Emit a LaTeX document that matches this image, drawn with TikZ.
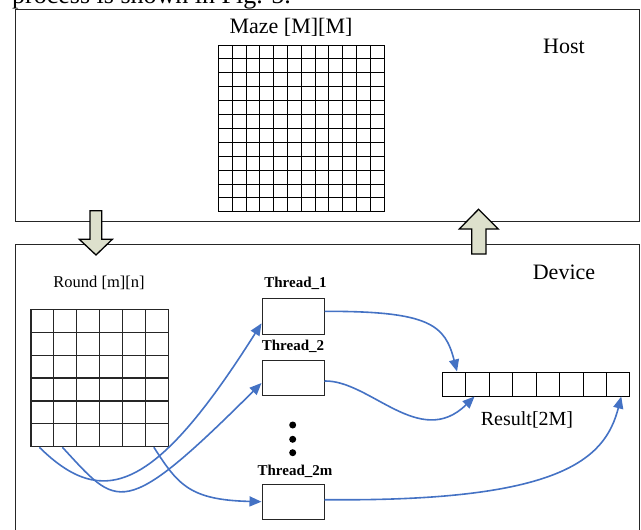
\documentclass[tikz,border=0pt]{standalone}
\usepackage{fontspec}
\setmainfont{Liberation Serif}
\usetikzlibrary{arrows.meta,calc}
\definecolor{flowblue}{HTML}{4472C4}
\definecolor{xferfill}{HTML}{DDE0CC}
\definecolor{edge}{HTML}{262626}
\begin{document}
\begin{tikzpicture}[x=1pt,y=-1pt,
  frame/.style={draw=edge,line width=1pt,inner sep=0pt},
  mazeline/.style={draw=black,line width=0.8pt},
  roundline/.style={draw=edge,line width=1.2pt},
  cell/.style={draw=black,line width=1pt,inner sep=0pt,minimum width=23.46pt,minimum height=24pt},
  threadbox/.style={draw=edge,line width=1pt,inner sep=0pt,minimum width=62pt,minimum height=35.3pt},
  tlabel/.style={font=\fontsize{15}{18}\selectfont\bfseries,inner sep=0pt},
  biglabel/.style={font=\fontsize{22}{26}\selectfont,inner sep=0pt},
  flow/.style={draw=flowblue,line width=1.6pt,-{Triangle[length=12pt,width=10pt]}},
  xfer/.style={fill=xferfill,draw=black,line width=1.3pt,line join=miter},
  dot/.style={circle,fill=black,inner sep=0pt,minimum size=7pt}
]
\useasboundingbox (0,0) rectangle (641,530);
\clip (0,0) rectangle (641,530);

% running text above the figure
\node[anchor=base west,inner sep=0pt,font=\fontsize{26}{30}\selectfont] (caption) at (12,4) {process is shown in Fig. 5.};

% host side
\node[frame,minimum width=624pt,minimum height=211.5pt] (host) at (327,115.25) {};
\node[biglabel] (hostlbl) at (564,46) {Host};
\node[biglabel] (mazelbl) at (291,27) {Maze [M][M]};
\foreach \i in {1,...,11} {
  \draw[mazeline] (218.3+\i*13.808,45) -- (218.3+\i*13.808,211.7);
  \draw[mazeline] (218.3,45+\i*13.892) -- (384,45+\i*13.892);
}
\node[draw=black,line width=0.9pt,inner sep=0pt,minimum width=165.7pt,minimum height=166.7pt] (maze) at (301.15,128.35) {};

% device side
\node[frame,minimum width=624pt,minimum height=300pt] (device) at (327,394) {};
\node[biglabel] (devlbl) at (564,272) {Device};

% transfer arrows between host and device
\draw[xfer] (90,210.7) -- (101.7,210.7) -- (101.7,239.3) -- (112.3,239.3) -- (96,255)
  -- (79.3,239.3) -- (90,239.3) -- cycle;
\draw[xfer] (471.7,254) -- (486,254) -- (486,229) -- (498.3,229) -- (478.5,209.3)
  -- (459.3,229) -- (471.7,229) -- cycle;

% round buffer
\node[font=\fontsize{16.5}{20}\selectfont,inner sep=0pt] (roundlbl) at (99,283) {Round [m][n]};
\foreach \i in {1,...,5} {
  \draw[roundline] (31+\i*22.883,309.3) -- (31+\i*22.883,446.7);
  \draw[roundline] (31,309.3+\i*22.9) -- (168.3,309.3+\i*22.9);
}
\node[draw=edge,line width=1.2pt,inner sep=0pt,minimum width=137.3pt,minimum height=137.4pt] (round) at (99.65,378) {};

% threads
\node[threadbox] (t1) at (293,316.35) {};
\node[threadbox] (t2) at (293,378) {};
\node[threadbox] (t3) at (293,501.7) {};
\node[tlabel] (t1lbl) at (295.5,283) {Thread\_1};
\node[tlabel] (t2lbl) at (293,346) {Thread\_2};
\node[tlabel] (t3lbl) at (295,471) {Thread\_2m};
\node[dot] (d1) at (292.7,425) {};
\node[dot] (d2) at (292.7,439.3) {};
\node[dot] (d3) at (292.7,452.7) {};

% result array
\foreach \i in {1,...,8} {
  \node[cell] (r\i) at (442.3+23.46*\i-11.73,384) {};
}
\node[font=\fontsize{20}{24}\selectfont,inner sep=0pt] (reslbl) at (527,420) {Result[2M]};

% data flow
\draw[flow] ($(round.south west)+(9,0)$) .. controls (103,510) and (155,492) .. ([yshift=-7pt]t1.west);
\draw[flow] ($(round.south west)+(32,0)$) .. controls (118,507) and (121,523) .. ([yshift=-5pt]t2.west);
\draw[flow] ($(round.south east)+(-15,0)$) .. controls (178,485) and (190,500) .. (t3.west);
\draw[flow] ([yshift=5pt]t1.east) .. controls (430,311) and (445,325) .. ([xshift=3pt]r1.north);
\draw[flow] ([yshift=-3pt]t2.east) .. controls (370,380) and (420,450) .. ([xshift=-3pt]r2.south);
\draw[flow] ([yshift=2pt]t3.east) .. controls (560,502) and (605,460) .. ([xshift=3pt]r8.south);
\end{tikzpicture}
\end{document}
